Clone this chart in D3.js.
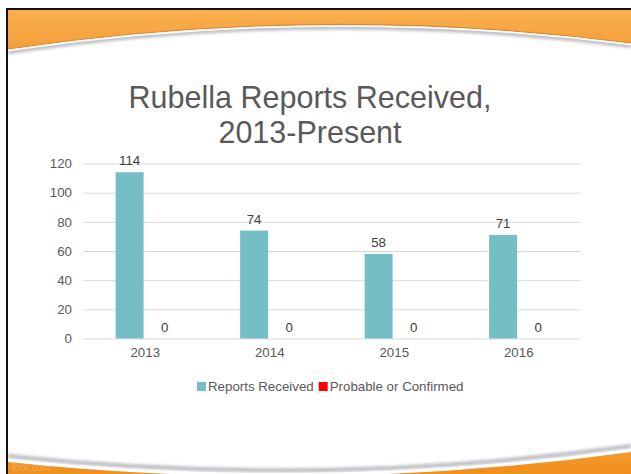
<!DOCTYPE html>
<html>
<head>
<meta charset="utf-8">
<script src="https://cdn.jsdelivr.net/npm/d3@7"></script>
<style>
  body { margin: 0; background: #fff; }
  svg { display: block; font-family: "Liberation Sans", Arial, sans-serif; }
</style>
</head>
<body>
<div id="chart"></div>
<script>
// chart data
var years = ["2013", "2014", "2015", "2016"];
var seriesNames = ["Reports Received", "Probable or Confirmed"];
var reportsReceived = [114, 74, 58, 71];
var probableConfirmed = [0, 0, 0, 0];
var yTicks = [0, 20, 40, 60, 80, 100, 120];
var seriesColors = ["#73BFC5", "#FF0000"];

var svgWidth = 631;
var svgHeight = 474;

var svg = d3.select("#chart")
    .append("svg")
    .attr("width", svgWidth)
    .attr("height", svgHeight);

var defs = svg.append("defs");

var headGrad = defs.append("linearGradient")
    .attr("id", "headGrad")
    .attr("x1", 0).attr("y1", 0).attr("x2", 0).attr("y2", 1);
headGrad.append("stop").attr("offset", "0%").attr("stop-color", "#FBB04F");
headGrad.append("stop").attr("offset", "100%").attr("stop-color", "#F49E3A");

var footGrad = defs.append("linearGradient")
    .attr("id", "footGrad")
    .attr("x1", 0).attr("y1", 0).attr("x2", 0).attr("y2", 1);
footGrad.append("stop").attr("offset", "0%").attr("stop-color", "#F39A2C");
footGrad.append("stop").attr("offset", "100%").attr("stop-color", "#EE8E1C");

defs.append("filter")
    .attr("id", "soft")
    .attr("x", "-5%").attr("y", "-50%").attr("width", "110%").attr("height", "200%")
    .append("feGaussianBlur")
    .attr("stdDeviation", 1.6);

// slide background pieces
//====================
var bg = svg.append("g");

bg.append("rect")
    .attr("x", 8).attr("y", 10)
    .attr("width", svgWidth - 8).attr("height", svgHeight - 10)
    .attr("fill", "#ffffff");

// header swoosh
bg.append("path")
    .attr("d", "M8,52 Q320,6 631,46")
    .attr("fill", "none")
    .attr("stroke", "#b9bcc2")
    .attr("stroke-width", 4)
    .attr("filter", "url(#soft)");

bg.append("path")
    .attr("d", "M8,10 L631,10 L631,43 Q320,3 8,49 Z")
    .attr("fill", "url(#headGrad)");

bg.append("path")
    .attr("d", "M8,49 Q320,3 631,43")
    .attr("fill", "none")
    .attr("stroke", "#d98a2e")
    .attr("stroke-width", 1.2);

bg.append("path")
    .attr("d", "M8,50.5 Q320,4.5 631,44.5")
    .attr("fill", "none")
    .attr("stroke", "#ffffff")
    .attr("stroke-width", 1.5);

// footer swoosh
bg.append("path")
    .attr("d", "M8,456 Q320,489 631,446")
    .attr("fill", "none")
    .attr("stroke", "#b9bcc2")
    .attr("stroke-width", 4)
    .attr("filter", "url(#soft)");

bg.append("path")
    .attr("d", "M8,459 Q320,492 631,449 L631,474 L8,474 Z")
    .attr("fill", "#ffffff");

bg.append("path")
    .attr("d", "M8,462 Q320,495 631,452 L631,474 L8,474 Z")
    .attr("fill", "url(#footGrad)");

bg.append("text")
    .attr("x", 12).attr("y", 471)
    .attr("font-size", 10)
    .attr("fill", "#ffffff")
    .attr("fill-opacity", 0.25)
    .text("foot.com");

// black frame on top and left
bg.append("rect")
    .attr("x", 6).attr("y", 8)
    .attr("width", svgWidth - 6).attr("height", 2)
    .attr("fill", "#111");
bg.append("rect")
    .attr("x", 6).attr("y", 8)
    .attr("width", 2).attr("height", svgHeight - 8)
    .attr("fill", "#111");

// title
//====================
var title = svg.append("text")
    .attr("text-anchor", "middle")
    .attr("font-size", 30.5)
    .attr("fill", "#595959");
title.append("tspan").attr("x", 310).attr("y", 108).text("Rubella Reports Received,");
title.append("tspan").attr("x", 310).attr("y", 142.5).text("2013-Present");

// scales
//====================
var plotLeft = 83, plotRight = 581, plotTop = 163.5, plotBottom = 338.5;

var x0 = d3.scaleBand()
    .domain(years)
    .range([plotLeft, plotRight]);

var x1 = d3.scaleBand()
    .domain(seriesNames)
    .range([0, x0.bandwidth()])
    .paddingInner(0.2)
    .paddingOuter(0.88)
    .align(0.53);

var y = d3.scaleLinear()
    .domain([0, 120])
    .range([plotBottom, plotTop]);

// axes
//====================
var leftAxis = d3.axisLeft(y)
    .tickValues(yTicks)
    .tickSize(-(plotRight - plotLeft))
    .tickPadding(11);

var yAxisG = svg.append("g")
    .attr("transform", `translate(${plotLeft},0)`)
    .call(leftAxis);
yAxisG.select(".domain").remove();
yAxisG.selectAll("line").attr("stroke", "#d9d9d9");
yAxisG.selectAll("text")
    .attr("fill", "#595959")
    .attr("font-size", 13.3)
    .attr("font-family", "Liberation Sans, Arial, sans-serif");

var bottomAxis = d3.axisBottom(x0)
    .tickSize(0)
    .tickPadding(9.5);

var xAxisG = svg.append("g")
    .attr("transform", `translate(0,${plotBottom})`)
    .call(bottomAxis);
xAxisG.select(".domain").remove();
xAxisG.selectAll("text")
    .attr("fill", "#595959")
    .attr("font-size", 13.3)
    .attr("font-family", "Liberation Sans, Arial, sans-serif");

// bars
//====================
var rows = years.map(function (yr, i) {
    return {
        year: yr,
        values: [
            { name: seriesNames[0], value: reportsReceived[i] },
            { name: seriesNames[1], value: probableConfirmed[i] }
        ]
    };
});

var groups = svg.append("g")
    .selectAll("g")
    .data(rows)
    .enter()
    .append("g")
    .attr("transform", d => `translate(${x0(d.year)},0)`);

groups.selectAll("rect")
    .data(d => d.values)
    .enter()
    .append("rect")
    .attr("x", d => x1(d.name))
    .attr("y", d => y(d.value))
    .attr("width", x1.bandwidth())
    .attr("height", d => y(0) - y(d.value))
    .attr("fill", (d, i) => seriesColors[i]);

groups.selectAll("text")
    .data(d => d.values)
    .enter()
    .append("text")
    .attr("x", d => x1(d.name) + x1.bandwidth() / 2)
    .attr("y", d => y(d.value) - 7)
    .attr("text-anchor", "middle")
    .attr("font-size", 13.3)
    .attr("fill", "#404040")
    .text(d => d.value);

// legend
//====================
var legend = svg.append("g");
var lx = 197;
seriesNames.forEach(function (name, i) {
    legend.append("rect")
        .attr("x", lx).attr("y", 382)
        .attr("width", 9).attr("height", 9)
        .attr("fill", seriesColors[i]);
    var t = legend.append("text")
        .attr("x", lx + 11).attr("y", 391)
        .attr("font-size", 13.3)
        .attr("fill", "#595959")
        .text(name);
    lx += 11 + t.node().getComputedTextLength() + 5;
});
</script>
</body>
</html>
